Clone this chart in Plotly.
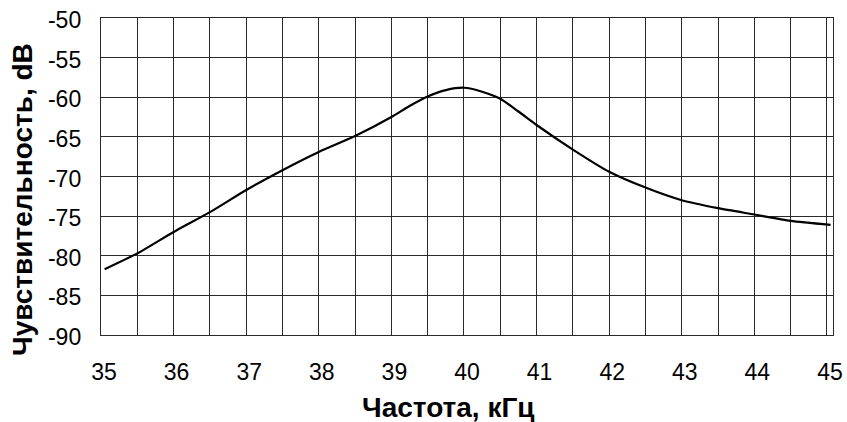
import plotly.graph_objects as go

freq_khz = [35.05, 35.5, 36.0, 36.5, 37.0, 37.5, 38.0, 38.5, 39.0, 39.25, 39.5, 39.75,
            40.0, 40.25, 40.5, 40.75, 41.0, 41.5, 42.0, 42.5, 43.0, 43.5, 44.0, 44.5, 45.05]
sensitivity_db = [-81.7, -79.7, -77.0, -74.5, -71.7, -69.2, -66.9, -64.9, -62.5, -61.1, -59.9, -59.1,
                  -58.8, -59.3, -60.2, -61.8, -63.5, -66.6, -69.4, -71.4, -73.0, -74.0, -74.8, -75.6, -76.1]
x_ticks = [35, 36, 37, 38, 39, 40, 41, 42, 43, 44, 45]
y_ticks = [-90, -85, -80, -75, -70, -65, -60, -55, -50]
x_title = "Частота, кГц"
y_title = "Чувствительность, dB"

FONT = "Liberation Sans, Arial, sans-serif"
GRID = "#2a2a2a"

W, H = 847, 422
L, R, T, B = 101, 14, 18, 87
PW, PH = W - L - R, H - T - B

fig = go.Figure()
fig.add_trace(go.Scatter(
    x=freq_khz, y=sensitivity_db, mode="lines",
    line=dict(color="black", width=2.2, shape="spline", smoothing=0.6),
    showlegend=False, hoverinfo="skip"))

fig.update_layout(
    width=W, height=H,
    margin=dict(l=L, r=R, t=T, b=B),
    paper_bgcolor="white", plot_bgcolor="white",
    font=dict(family=FONT, color="black", size=23),
)
fig.update_xaxes(
    range=[35, 45.083], tickvals=x_ticks, ticktext=[str(v) for v in x_ticks],
    automargin=False, ticklabeloverflow="allow",
    showgrid=True, gridcolor=GRID, gridwidth=1.4,
    minor=dict(dtick=0.5, tick0=35, showgrid=True, gridcolor=GRID, gridwidth=1.4),
    showline=True, linecolor=GRID, linewidth=1.4, mirror=True,
    zeroline=False, ticks="", ticklabelstandoff=16, ticklabelshift=3,
    tickfont=dict(size=23, family=FONT),
)
fig.update_yaxes(
    range=[-90, -50], tickvals=y_ticks, ticktext=[str(v) for v in y_ticks],
    automargin=False, ticklabeloverflow="allow",
    showgrid=True, gridcolor=GRID, gridwidth=1.4,
    showline=True, linecolor=GRID, linewidth=1.4, mirror=True,
    zeroline=False, ticks="", ticklabelstandoff=14, ticklabelshift=2,
    tickfont=dict(size=23, family=FONT),
)

fig.add_annotation(
    text="<b>" + x_title + "</b>", showarrow=False,
    xref="paper", yref="paper",
    x=(448 - L) / PW, y=1 - (407 - T) / PH, xanchor="center", yanchor="middle",
    font=dict(size=28, family=FONT, color="black"))
fig.add_annotation(
    text="<b>" + y_title + "</b>", showarrow=False, textangle=-90,
    xref="paper", yref="paper",
    x=(22 - L) / PW, y=1 - (200 - T) / PH, xanchor="center", yanchor="middle",
    font=dict(size=28, family=FONT, color="black"))

fig.write_html("out.html",
               config={"displayModeBar": False},
               post_script="document.body.style.margin='0px';document.body.style.overflow='hidden';")
